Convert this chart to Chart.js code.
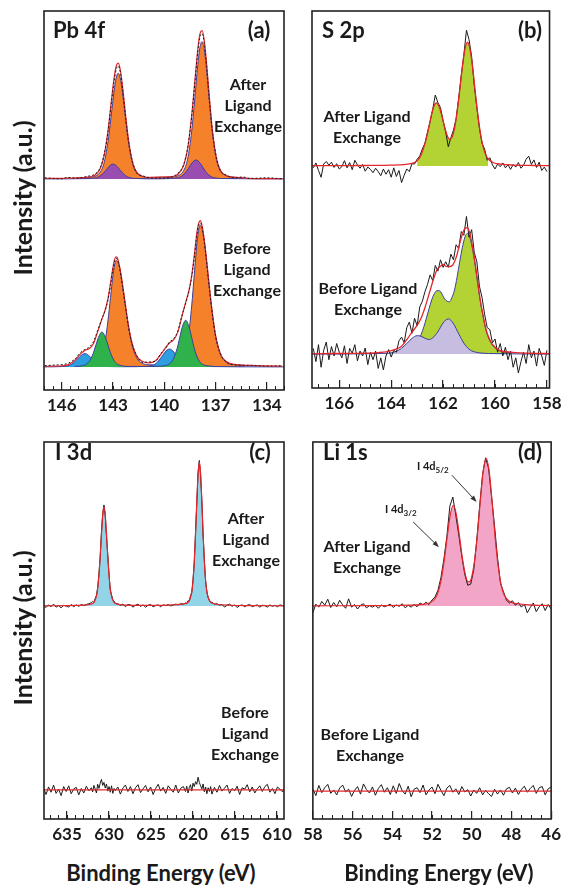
<!DOCTYPE html>
<html lang="en">
<head>
<meta charset="UTF-8">
<title>XPS spectra before and after ligand exchange</title>
<script src="https://cdn.jsdelivr.net/npm/chart.js@4"></script>
<style>
    body { margin: 0; background: #fff; }
    #fig { position: relative; width: 568px; height: 887px; overflow: hidden;
           font-family: Lato, 'Open Sans', sans-serif; font-weight: 700; color: #1a1a1a; }
    #fig canvas { position: absolute; }
    .t { position: absolute; white-space: nowrap; line-height: 1; }
    .mid { transform: translate(-50%, -50%); text-align: center; }
    .left { transform: translateY(-50%); }
    .title { font-size: 22px; }
    .note { font-size: 16px; line-height: 21px; }
    .ylab { font-size: 25px; transform: translate(-50%, -50%) rotate(-90deg); }
    .xlab { font-size: 22px; }
    .pk { font-size: 11px; }
    .pk sub { font-size: 8px; }
</style>
</head>
<body>
<div id="fig">
    <canvas id="cA"></canvas>
    <canvas id="cB"></canvas>
    <canvas id="cC"></canvas>
    <canvas id="cD"></canvas>

    <div class="t left title" style="left:53px;top:30px">Pb 4f</div>
    <div class="t mid title" style="left:259px;top:30px">(a)</div>
    <div class="t mid note" style="left:248px;top:104px">After<br>Ligand<br>Exchange</div>
    <div class="t mid note" style="left:247px;top:268px">Before<br>Ligand<br>Exchange</div>

    <div class="t left title" style="left:322px;top:30px">S 2p</div>
    <div class="t mid title" style="left:530px;top:30px">(b)</div>
    <div class="t mid note" style="left:367px;top:126px">After Ligand<br>Exchange</div>
    <div class="t mid note" style="left:368px;top:298px">Before Ligand<br>Exchange</div>

    <div class="t left title" style="left:55px;top:452px">I 3d</div>
    <div class="t mid title" style="left:260px;top:452px">(c)</div>
    <div class="t mid note" style="left:246px;top:538px">After<br>Ligand<br>Exchange</div>
    <div class="t mid note" style="left:245px;top:732px">Before<br>Ligand<br>Exchange</div>

    <div class="t left title" style="left:323px;top:452px">Li 1s</div>
    <div class="t mid title" style="left:530px;top:452px">(d)</div>
    <div class="t mid note" style="left:367px;top:556px">After Ligand<br>Exchange</div>
    <div class="t mid note" style="left:370px;top:744px">Before Ligand<br>Exchange</div>
    <div class="t left pk" style="left:417px;top:467px">I 4d<sub>5/2</sub></div>
    <div class="t left pk" style="left:385px;top:510px">I 4d<sub>3/2</sub></div>

    <div class="t ylab" style="left:22px;top:198px">Intensity (a.u.)</div>
    <div class="t ylab" style="left:22px;top:628px">Intensity (a.u.)</div>
    <div class="t mid xlab" style="left:161px;top:873px">Binding Energy (eV)</div>
    <div class="t mid xlab" style="left:439px;top:873px">Binding Energy (eV)</div>
</div>

<script>
    // ---------- (a) Pb 4f ----------
    const A_TICKS = [146, 143, 140, 137, 134];
    const A_AFTER_BASE = 55.7;
    const A_BEFORE_BASE = 6.1;

    const A_AFTER_ORANGE_E = [145.1,144.5,144.14,143.78,143.54,143.3,143.12,142.94,142.82,142.7,142.58,142.46,142.28,142.1,141.86,141.62,141.26,140.9,140.25,139.6,139.24,138.88,138.64,138.4,138.22,138.04,137.92,137.8,137.68,137.56,137.38,137.2,136.96,136.72,136.36,136.0,135.4];
    const A_AFTER_ORANGE_Y = [0.22,0.36,0.6,1.6,4.0,9.7,16.3,23.2,26.6,27.9,26.6,23.2,16.3,9.7,4.0,1.6,0.6,0.36,0.45,0.47,0.8,2.1,5.2,12.6,21.1,30.2,34.6,36.2,34.6,30.2,21.1,12.6,5.2,2.1,0.8,0.47,0.29];
    const A_AFTER_PURPLE_E = [147.04,144.44,144.08,143.84,143.6,143.42,143.24,143.0,142.76,142.58,142.4,142.16,141.92,141.56,140.6,139.59,139.23,138.99,138.75,138.57,138.39,138.15,137.91,137.73,137.55,137.31,137.07,136.71,133.0];
    const A_AFTER_PURPLE_Y = [0,0.09,0.22,0.57,1.36,2.28,3.25,3.9,3.25,2.28,1.36,0.57,0.22,0.09,0.02,0.11,0.29,0.73,1.75,2.92,4.17,5.0,4.17,2.92,1.75,0.73,0.29,0.11,0];
    const A_AFTER_FIT_E = [147.0,146.0,145.69,145.09,144.49,144.13,143.77,143.53,143.29,143.11,142.93,142.81,142.69,142.57,142.45,142.27,142.09,141.85,141.61,141.25,140.89,140.25,139.59,139.23,138.87,138.63,138.39,138.21,138.03,137.91,137.79,137.67,137.55,137.37,137.19,136.95,136.71,136.35,135.99,135.39,135.0,134.0,133.1];
    const A_AFTER_FIT_Y = [0.1,0.15,0.2,0.25,0.45,0.82,2.5,6.0,12.95,20.15,26.9,29.85,30.55,28.6,24.56,17.0,10.1,4.2,1.7,0.65,0.4,0.45,0.6,1.15,3.55,8.1,17.2,26.1,34.75,38.4,39.1,36.7,31.65,21.8,12.95,5.4,2.2,0.8,0.47,0.29,0.15,0.08,0.05];
    const A_AFTER_DATA_Y = [0.3,0.0,0.4,0.2,0.7,1.1,2.8,6.3,12.5,19.6,26.0,29.0,29.8,28.0,24.0,16.5,9.8,4.4,1.5,0.8,0.3,0.2,0.5,1.4,3.8,8.4,16.8,25.5,34.0,37.6,38.3,36.0,31.0,21.2,12.6,5.6,2.0,1.0,0.3,0.5,0.1,0.3,0.0];

    const A_BEFORE_ORANGE_E = [144.8,144.3,144.0,143.7,143.5,143.3,143.15,143.0,142.9,142.8,142.67,142.54,142.35,142.15,141.89,141.63,141.24,140.85,140.4,139.9,139.4,139.1,138.8,138.6,138.4,138.25,138.1,138.0,137.9,137.77,137.64,137.45,137.25,136.99,136.73,136.34,135.95,135.3];
    const A_BEFORE_ORANGE_Y = [0.28,0.48,0.84,2.5,5.8,12.1,18.3,24.3,27.1,28.1,27.1,24.3,18.3,12.1,5.8,2.5,0.84,0.55,0.5,0.6,0.75,1.1,3.4,7.8,16.1,24.3,32.4,36.0,37.4,36.0,32.4,24.3,16.1,7.8,3.4,1.1,0.64,0.37];
    const A_BEFORE_GREEN_E = [145.25,144.85,144.55,144.35,144.15,144.0,143.85,143.65,143.45,143.3,143.15,142.95,142.75,142.45,142.05,141.2,140.35,139.95,139.65,139.45,139.25,139.1,138.95,138.75,138.55,138.4,138.25,138.05,137.85,137.55,137.15];
    const A_BEFORE_GREEN_Y = [0.12,0.26,0.74,1.75,3.7,5.8,7.8,9.2,7.8,5.8,3.7,1.75,0.74,0.26,0.12,0.1,0.16,0.34,0.98,2.3,4.9,7.75,10.5,12.3,10.5,7.75,4.9,2.3,0.98,0.34,0.16];
    const A_BEFORE_BLUE_E = [147.04,145.95,145.65,145.45,145.25,145.05,144.85,144.65,144.45,144.25,144.05,143.85,143.65,143.35,142.2,141.0,140.7,140.5,140.3,140.1,139.9,139.7,139.5,139.3,139.1,138.9,138.7,138.4,133.0];
    const A_BEFORE_BLUE_Y = [0,0.1,0.28,0.63,1.33,2.24,3.1,3.5,3.1,2.24,1.33,0.63,0.28,0.1,0.05,0.14,0.38,0.85,1.8,3.0,4.2,4.7,4.2,3.0,1.8,0.85,0.38,0.14,0];
    const A_BEFORE_FIT_E = [147.0,146.4,146.0,145.6,145.2,144.9,144.65,144.4,144.15,143.9,143.65,143.45,143.3,143.15,143.0,142.9,142.8,142.7,142.6,142.45,142.3,142.1,141.9,141.6,141.3,140.9,140.5,140.2,139.95,139.7,139.45,139.2,138.95,138.75,138.55,138.4,138.25,138.1,138.0,137.9,137.8,137.7,137.55,137.4,137.2,137.0,136.7,136.4,135.9,135.0,134.0,133.1];
    const A_BEFORE_FIT_Y = [0.15,0.2,0.3,0.6,1.9,3.45,4.35,4.8,6.1,9.3,12.6,15.2,18.0,22.1,26.4,28.5,29.0,28.1,26.1,21.9,17.1,10.95,6.5,2.7,1.5,1.07,1.7,3.3,4.96,6.3,7.2,9.3,13.7,17.1,20.4,24.1,29.3,35.3,37.8,38.6,37.4,34.7,29.1,22.65,14.55,8.3,3.2,1.5,0.65,0.38,0.26,0.2];
    const A_BEFORE_DATA_Y = [0.3,0.5,0.6,1.0,2.2,3.8,4.6,5.2,6.6,9.6,12.8,15.0,17.6,21.5,26.0,28.0,28.6,27.8,25.6,21.4,16.8,10.6,6.2,2.9,1.2,1.3,1.5,3.6,4.7,6.6,7.4,9.6,13.9,16.8,20.1,23.8,28.8,34.6,37.2,38.0,37.0,34.2,28.6,22.2,14.2,8.0,3.4,1.3,0.5,0.4,0.2,0.3];

    // ---------- (b) S 2p ----------
    const B_TICKS = [166, 164, 162, 160, 158];
    const B_AFTER_BASE = 58.9;
    const B_BEFORE_BASE = 9.0;
    const B_E = [167.0,166.9,166.8,166.7,166.6,166.5,166.4,166.3,166.2,166.1,
        166.0,165.9,165.8,165.7,165.6,165.5,165.4,165.3,165.2,165.1,
        165.0,164.9,164.8,164.7,164.6,164.5,164.4,164.3,164.2,164.1,
        164.0,163.9,163.8,163.7,163.6,163.5,163.4,163.3,163.2,163.1,
        163.0,162.9,162.8,162.7,162.6,162.5,162.4,162.3,162.2,162.1,
        162.0,161.9,161.8,161.7,161.6,161.5,161.4,161.3,161.2,161.1,
        161.0,160.9,160.8,160.7,160.6,160.5,160.4,160.3,160.2,160.1,
        160.0,159.9,159.8,159.7,159.6,159.5,159.4,159.3,159.2,159.1,
        159.0,158.9,158.8,158.7,158.6,158.5,158.4,158.3,158.2,158.1,
        158.0];
    const B_AFTER_DATA = [-0.5,0.8,-1.2,-3.0,0.5,1.2,0.2,1.0,-0.4,0.6,
        -0.8,-0.2,1.4,-0.5,0.9,-1.0,1.5,0.3,-0.6,0.4,
        -1.4,-0.3,-0.9,-1.8,-0.6,-1.5,-2.6,-0.8,-2.2,-1.0,
        -3.0,-0.5,-2.8,-1.2,-4.4,-2.5,-0.8,-1.5,0.6,0.5,
        1.8,2.6,4.5,6.0,9.0,11.8,15.0,18.8,16.8,15.5,
        12.0,9.0,5.1,7.5,9.5,12.5,18.0,24.0,29.5,36.0,
        33.5,29.0,21.5,15.5,10.0,6.0,4.5,1.5,2.2,0.3,
        -0.8,0.5,-0.2,0.8,-0.5,0.3,-0.9,0.4,-0.3,0.9,
        -0.6,0.2,1.8,2.6,0.4,1.6,-0.4,1.0,-1.2,-0.3,
        -1.5];
    const B_BEFORE_DATA = [1.5,-2.0,2.5,-3.5,1.0,3.2,-1.5,2.0,-0.5,2.8,
        0.5,-1.0,2.2,-2.5,1.5,0.2,2.5,-1.8,0.8,-0.5,
        1.6,-2.8,0.5,-1.5,0.8,-3.8,-1.0,-4.2,-0.5,1.2,
        -0.8,1.0,0.5,3.5,4.5,3.0,7.0,8.5,5.5,9.5,
        7.5,12.5,14.0,16.5,18.5,21.0,19.5,23.5,22.0,25.0,
        23.0,24.5,23.0,26.5,25.0,29.0,28.0,32.5,31.5,36.5,
        31.0,33.0,27.0,24.5,18.0,15.0,10.5,7.0,6.5,3.0,
        4.0,0.5,2.8,-0.5,1.8,-1.5,0.8,-3.5,-1.0,-5.0,
        -2.0,0.5,-2.5,2.5,-1.0,0.8,-3.2,1.5,-0.5,-3.0,
        1.0];
    const B_AFTER_FIT_E = [167.05,166,165,164,163.5,163.2,163.0,162.86,162.66,162.56,162.46,162.36,162.26,162.16,162.06,161.96,161.86,161.76,161.66,161.56,161.46,161.36,161.26,161.16,161.06,160.96,160.86,160.76,160.66,160.56,160.46,160.36,160.26,160.06,159.76,159.3,158.5,157.9];
    const B_AFTER_FIT_Y = [0.05,0.08,0.12,0.22,0.37,0.66,1.4,2.7,6.9,9.9,13.2,15.7,16.75,15.85,13.6,10.85,8.4,7.1,7.55,9.95,14.3,20.0,26.2,30.9,32.85,30.8,26.0,19.55,13.5,8.6,5.15,3.0,1.85,0.85,0.46,0.24,0.12,0.08];
    const B_AFTER_GREEN_SPAN = [163.0, 160.26];
    const B_BEFORE_FIT_E = [167.05,166,165,164.5,164.2,163.9,163.6,163.4,163.2,163.0,162.85,162.7,162.55,162.4,162.24,162.1,162.0,161.9,161.8,161.66,161.56,161.46,161.36,161.26,161.16,161.06,160.96,160.86,160.76,160.66,160.56,160.46,160.36,160.26,160.1,159.8,159.4,159.0,158.5,157.9];
    const B_BEFORE_FIT_Y = [0.1,0.15,0.25,0.4,0.6,1.1,2.1,3.8,5.8,7.6,9.5,12.3,15.7,19.2,22.3,23.3,23.8,23.3,23.2,23.4,24.5,26.45,29.3,31.7,33.3,33.55,31.7,28.25,23.85,18.8,14.0,10.25,6.9,4.7,2.55,0.9,0.5,0.3,0.2,0.12];
    const B_BEFORE_GREEN_E = [163.6,163.3,163.1,162.94,162.84,162.74,162.64,162.54,162.44,162.34,162.24,162.14,162.04,161.94,161.84,161.76,161.66,161.56,161.46,161.36,161.26,161.16,161.06,160.96,160.86,160.76,160.66,160.56,160.46,160.36,160.26,160.1,159.8,159.4];
    const B_BEFORE_GREEN_Y = [0.6,1.2,2.1,3.7,5.3,7.25,9.6,12.05,14.35,16.0,16.8,16.8,15.9,14.6,14.0,13.85,15.0,17.0,20.45,24.5,28.2,31.0,32.0,30.7,27.55,23.3,18.35,13.7,10.0,6.7,4.5,2.4,0.8,0.4];
    const B_BEFORE_PURPLE_E = [167.05,164.2,163.8,163.6,163.4,163.2,163.0,162.85,162.7,162.55,162.4,162.2,162.0,161.8,161.6,161.4,161.2,161.0,160.8,160.5,160.0,157.9];
    const B_BEFORE_PURPLE_Y = [0,0.2,0.73,1.54,2.8,4.16,4.88,4.73,4.2,3.86,4.3,5.94,8.26,9.34,8.06,5.4,2.9,1.3,0.6,0.25,0.12,0];

    // ---------- (c) I 3d ----------
    const C_TICKS = [635, 630, 625, 620, 615, 610];
    const C_AFTER_BASE = 56.5;
    const C_BEFORE_BASE = 7.7;
    const C_E = [637.8,637.5,637.2,636.9,636.6,636.3,636.0,635.7,635.4,635.1,634.8,634.5,634.2,633.9,633.6,633.3,633.0,632.7,632.4,632.1,
        631.95,631.8,631.65,631.5,631.35,631.2,631.05,630.9,630.75,630.6,630.45,630.3,630.15,630.0,629.85,629.7,629.55,629.4,629.25,
        628.95,628.65,628.35,628.05,627.75,627.45,627.15,626.85,626.55,626.25,625.95,625.65,625.35,625.05,624.75,624.45,624.15,623.85,623.55,623.25,622.95,622.65,622.35,622.05,621.75,621.45,621.15,
        620.9,620.75,620.6,620.45,620.3,620.15,620.0,619.85,619.7,619.55,619.4,619.25,619.1,618.95,618.8,618.65,618.5,618.35,618.2,618.05,617.9,617.75,
        617.45,617.15,616.85,616.55,616.25,615.95,615.65,615.35,615.05,614.75,614.45,614.15,613.85,613.55,613.25,612.95,612.65,612.35,612.05,611.75,611.45,611.15,610.85,610.55,610.25,609.95,609.65,609.35,609.05];
    const C_AFTER_DATA = [0.2,-0.4,0.3,-0.2,0.5,-0.3,0.1,-0.5,0.2,0.0,-0.3,0.4,-0.2,0.3,-0.1,0.4,0.1,0.4,0.6,0.9,
        1.2,0.9,2.0,2.8,4.9,8.6,13.0,19.6,24.5,26.8,24.0,18.5,13.6,8.5,4.2,3.0,1.6,1.3,0.7,
        0.6,0.2,0.5,-0.2,0.4,0.3,-0.3,0.2,0.5,-0.1,0.3,-0.3,0.2,0.4,-0.2,0.1,0.3,-0.2,0.3,0.1,0.4,0.0,0.3,0.5,0.3,0.6,0.5,
        0.8,0.6,1.4,1.3,2.7,3.6,7.0,11.6,19.6,27.4,35.4,38.6,34.8,28.0,18.8,12.1,6.5,3.9,2.2,1.6,0.9,1.0,
        0.5,0.6,0.2,0.4,-0.3,0.2,0.5,-0.1,0.3,-0.4,0.1,0.3,-0.2,0.2,0.4,-0.2,0.1,0.3,-0.3,0.2,0.1,-0.3,0.3,-0.1,0.2,-0.2,0.3,0.1,-0.2];
    const C_BEFORE_DATA = [0.5,-1.2,0.8,-0.6,1.3,-0.9,0.2,-1.5,0.9,-0.4,1.1,-1.0,0.3,0.7,-1.3,0.4,-0.8,1.0,-0.2,0.6,
        -0.5,1.2,0.3,-0.8,1.5,0.4,1.8,2.8,1.2,2.0,0.5,1.6,-0.3,0.9,-0.6,1.1,-0.9,0.4,-0.2,
        0.8,-1.1,0.5,1.3,-0.4,0.9,-1.0,0.6,1.4,-0.7,0.3,1.2,-0.5,0.8,-1.2,0.4,1.5,-0.3,0.7,-0.9,1.1,0.2,-0.6,1.3,-0.8,0.5,0.9,
        -0.4,1.0,-0.8,0.6,1.4,-0.3,1.8,0.9,2.2,1.5,3.4,2.0,1.1,0.3,1.6,-0.5,0.8,-1.0,0.6,-0.4,0.9,-1.1,
        0.7,-0.6,1.2,-0.3,0.5,1.3,-0.9,0.4,-0.2,1.0,-1.2,0.6,0.2,1.4,-0.5,0.8,-0.8,0.3,1.1,-0.4,0.9,1.5,-0.6,0.4,-1.0,0.8,0.2,-0.5,0.6];
    const C_FIT_E = [637.8,634,632.6,632.1,631.8,631.5,631.35,631.2,631.05,630.9,630.75,630.6,630.45,630.3,630.15,630.0,629.85,629.7,629.4,629.1,628.6,625,621.25,620.75,620.45,620.15,620.0,619.85,619.7,619.55,619.4,619.25,619.1,618.95,618.8,618.65,618.5,618.35,618.05,617.75,617.25,613,609.0];
    const C_FIT_Y = [0.05,0.15,0.32,0.55,0.95,2.55,4.6,8.1,13.2,19.0,24.2,26.3,24.2,19.0,13.2,8.1,4.6,2.55,0.95,0.55,0.32,0.15,0.5,0.8,1.4,3.7,6.7,11.8,19.1,27.7,35.1,38.2,35.1,27.7,19.1,11.8,6.7,3.7,1.4,0.8,0.46,0.1,0.05];
    const C_FLAT_E = [637.8, 609.0];
    const C_FLAT_Y = [0, 0];

    // ---------- (d) Li 1s ----------
    const D_TICKS = [58, 56, 54, 52, 50, 48, 46];
    const D_AFTER_BASE = 56.5;
    const D_BEFORE_BASE = 7.4;
    const D_E = [58.0,57.85,57.7,57.55,57.4,57.25,57.1,56.95,56.8,56.65,
        56.5,56.35,56.2,56.05,55.9,55.75,55.6,55.45,55.3,55.15,
        55.0,54.85,54.7,54.55,54.4,54.25,54.1,53.95,53.8,53.65,
        53.5,53.35,53.2,53.05,52.9,52.75,52.6,52.45,52.3,52.15,
        52.0,51.85,51.7,51.55,51.4,51.25,51.1,50.95,50.8,50.65,
        50.5,50.35,50.2,50.05,49.9,49.75,49.6,49.45,49.3,49.15,
        49.0,48.85,48.7,48.55,48.4,48.25,48.1,47.95,47.8,47.65,
        47.5,47.35,47.2,47.05,46.9,46.75,46.6,46.45,46.3,46.15,
        46.0];
    const D_AFTER_DATA = [-1.8,0.5,-0.3,1.2,0.2,1.8,-0.4,0.9,-0.2,1.5,
        0.3,-0.6,1.9,-0.3,0.4,-0.8,0.2,0.6,-0.5,0.1,
        -0.3,0.2,-0.6,0.3,-0.2,0.1,0.5,-0.4,0.3,-0.1,
        0.6,-0.5,0.2,-0.3,0.4,-0.2,0.8,0.3,1.0,0.4,
        1.6,2.4,4.2,7.5,12.5,18.5,26.5,28.9,24.0,18.8,
        13.2,8.4,5.5,5.8,9.5,17.2,26.5,35.0,39.3,36.5,
        29.0,21.2,12.8,6.0,3.8,1.5,0.8,1.4,0.2,0.9,
        -0.3,0.5,-1.8,-0.4,0.8,-1.5,-0.2,0.6,-1.2,0.4,
        -0.8];
    const D_BEFORE_DATA = [0.6,-1.2,1.5,-0.4,0.9,1.8,-0.6,0.3,-1.0,0.8,
        1.6,-0.2,0.5,-1.4,0.2,1.2,-0.8,1.9,0.4,-0.5,
        1.1,-1.1,0.7,1.7,-0.3,0.9,-0.9,1.4,-0.6,2.0,
        0.1,-0.8,1.3,-1.5,0.5,0.9,-0.4,1.6,-1.0,0.3,
        1.1,-0.7,1.8,0.2,-1.2,0.8,1.5,-0.3,0.6,-0.9,
        1.2,-0.2,0.4,-1.3,0.3,-0.6,0.9,-1.0,0.2,-0.7,
        -1.4,0.5,-0.8,0.3,-1.1,0.6,1.0,-0.5,0.8,-0.9,
        0.4,1.3,-0.3,0.7,1.5,-0.6,0.9,1.2,-1.0,0.6,
        1.1];
    const D_FIT_E = [58,55,53.2,52.5,52.13,51.83,51.68,51.53,51.38,51.23,51.08,50.93,50.78,50.63,50.48,50.33,50.18,50.1,50.02,49.87,49.72,49.57,49.42,49.27,49.12,48.97,48.82,48.67,48.52,48.37,48.07,47.67,47.07,46];
    const D_FIT_Y = [0.05,0.1,0.23,0.43,0.78,2.05,3.87,7.2,12.3,18.55,24.2,26.65,24.45,19.05,13.1,8.6,6.4,6.5,7.35,11.5,18.56,27.7,35.8,39.1,35.7,27.45,18.1,10.6,5.7,2.96,1.12,0.6,0.3,0.1];
    const D_FLAT_E = [58.0, 46.0];
    const D_FLAT_Y = [0, 0];
    // arrows to the I 4d peaks: [eV, intensity]
    const D_ARROWS = [
        {from: [51.0, 91.2], to: [49.75, 84.1]},
        {from: [52.95, 78.8], to: [51.65, 72.1]}
    ];

    // ---------- drawing ----------
    const PAD = 22, TOP = 2, AXIS_H = 30;
    const FONT = "Lato, 'Open Sans', sans-serif";
    const RED = '#e5262b', INK = '#1a1a1a', NAVY = '#3a3f9e';

    function pts(xs, ys, base) {
        const n = Math.min(xs.length, ys.length);
        const out = [];
        for (let i = 0; i < n; i++) out.push({x: xs[i], y: ys[i] + base});
        return out;
    }

    function trace(data, color, width, opts) {
        return Object.assign({data, borderColor: color, borderWidth: width, pointRadius: 0,
            fill: false, tension: 0}, opts || {});
    }
    function smooth(data, color, width, opts) {
        return trace(data, color, width, Object.assign({cubicInterpolationMode: 'monotone'}, opts || {}));
    }
    function area(data, color, base, edge) {
        return smooth(data, edge || color, edge ? 1 : 0, {backgroundColor: color, fill: {value: base}});
    }

    const framePlugin = {
        id: 'frame',
        afterDatasetsDraw(chart) {
            const {ctx, chartArea: a} = chart;
            ctx.save();
            ctx.strokeStyle = '#222';
            ctx.lineWidth = 1.6;
            ctx.strokeRect(a.left, a.top, a.right - a.left, a.bottom - a.top);
            ctx.restore();
        }
    };

    const arrowPlugin = {
        id: 'arrows',
        afterDatasetsDraw(chart, args, opts) {
            const list = (opts && opts.list) || [];
            const {ctx, scales: {x, y}} = chart;
            list.forEach(a => {
                const x1 = x.getPixelForValue(a.from[0]), y1 = y.getPixelForValue(a.from[1]);
                const x2 = x.getPixelForValue(a.to[0]), y2 = y.getPixelForValue(a.to[1]);
                const ang = Math.atan2(y2 - y1, x2 - x1);
                ctx.save();
                ctx.strokeStyle = '#333';
                ctx.fillStyle = '#333';
                ctx.lineWidth = 1;
                ctx.beginPath();
                ctx.moveTo(x1, y1);
                ctx.lineTo(x2 - 4 * Math.cos(ang), y2 - 4 * Math.sin(ang));
                ctx.stroke();
                ctx.beginPath();
                ctx.moveTo(x2, y2);
                ctx.lineTo(x2 - 7 * Math.cos(ang - 0.35), y2 - 7 * Math.sin(ang - 0.35));
                ctx.lineTo(x2 - 7 * Math.cos(ang + 0.35), y2 - 7 * Math.sin(ang + 0.35));
                ctx.closePath();
                ctx.fill();
                ctx.restore();
            });
        }
    };

    function makePanel(id, frame, range, major, minorStep, datasets, arrows) {
        const cv = document.getElementById(id);
        const w = frame.r - frame.l + 2 * PAD;
        const h = frame.b - frame.t + TOP + AXIS_H;
        cv.width = w;
        cv.height = h;
        cv.style.left = (frame.l - PAD) + 'px';
        cv.style.top = (frame.t - TOP) + 'px';
        cv.style.width = w + 'px';
        cv.style.height = h + 'px';

        const common = {type: 'linear', position: 'bottom', min: range[1], max: range[0],
            reverse: true, border: {display: false}};

        return new Chart(cv, {
            type: 'line',
            data: {datasets},
            options: {
                responsive: false,
                animation: false,
                events: [],
                layout: {autoPadding: false, padding: {left: PAD, right: PAD, top: TOP, bottom: 0}},
                plugins: {legend: {display: false}, tooltip: {enabled: false}, arrows: {list: arrows || []}},
                scales: {
                    x: Object.assign({}, common, {
                        weight: 0,
                        afterBuildTicks: s => {
                            const t = [];
                            const k0 = Math.ceil(range[1] / minorStep - 1e-6);
                            for (let k = k0; k * minorStep <= range[0] + 1e-9; k++) {
                                t.push({value: +(k * minorStep).toFixed(3)});
                            }
                            s.ticks = t;
                        },
                        afterFit: s => { s.height = 0; },
                        ticks: {display: false},
                        grid: {drawOnChartArea: false, drawTicks: true, tickLength: -4, color: '#222', lineWidth: 1}
                    }),
                    xMajor: Object.assign({}, common, {
                        weight: 1,
                        afterBuildTicks: s => { s.ticks = major.map(v => ({value: v})); },
                        afterFit: s => { s.height = AXIS_H; },
                        ticks: {autoSkip: false, maxRotation: 0, padding: 13, color: INK,
                            font: {family: FONT, size: 17, weight: 'bold'}},
                        grid: {drawOnChartArea: false, drawTicks: true, tickLength: -8, color: '#222', lineWidth: 1.2}
                    }),
                    y: {display: false, min: 0, max: 100}
                }
            },
            plugins: [framePlugin, arrowPlugin]
        });
    }

    // (a) Pb 4f
    makePanel('cA', {l: 44, r: 284, t: 11, b: 390}, [147.04, 133.0], A_TICKS, 0.5, [
        smooth(pts(A_AFTER_FIT_E, A_AFTER_DATA_Y, A_AFTER_BASE), INK, 1, {borderDash: [2, 2]}),
        smooth(pts(A_AFTER_FIT_E, A_AFTER_FIT_Y, A_AFTER_BASE), RED, 1.2),
        area(pts(A_AFTER_PURPLE_E, A_AFTER_PURPLE_Y, A_AFTER_BASE), '#9a4db0', A_AFTER_BASE, NAVY),
        area(pts(A_AFTER_ORANGE_E, A_AFTER_ORANGE_Y, A_AFTER_BASE), '#f5822a', A_AFTER_BASE, NAVY),
        smooth(pts(A_BEFORE_FIT_E, A_BEFORE_DATA_Y, A_BEFORE_BASE), INK, 1, {borderDash: [2, 2]}),
        smooth(pts(A_BEFORE_FIT_E, A_BEFORE_FIT_Y, A_BEFORE_BASE), RED, 1.2),
        area(pts(A_BEFORE_GREEN_E, A_BEFORE_GREEN_Y, A_BEFORE_BASE), '#2fb24c', A_BEFORE_BASE, NAVY),
        area(pts(A_BEFORE_BLUE_E, A_BEFORE_BLUE_Y, A_BEFORE_BASE), '#2d9fe0', A_BEFORE_BASE, NAVY),
        area(pts(A_BEFORE_ORANGE_E, A_BEFORE_ORANGE_Y, A_BEFORE_BASE), '#f5822a', A_BEFORE_BASE, NAVY)
    ]);

    // (b) S 2p
    const bGreen = pts(B_AFTER_FIT_E, B_AFTER_FIT_Y, B_AFTER_BASE)
        .filter(p => p.x <= B_AFTER_GREEN_SPAN[0] && p.x >= B_AFTER_GREEN_SPAN[1]);
    makePanel('cB', {l: 312, r: 553, t: 11, b: 388}, [167.05, 157.9], B_TICKS, 0.4, [
        smooth(pts(B_AFTER_FIT_E, B_AFTER_FIT_Y, B_AFTER_BASE), RED, 1.3),
        trace(pts(B_E, B_AFTER_DATA, B_AFTER_BASE), INK, 1),
        area(bGreen, '#b3d334', B_AFTER_BASE),
        smooth(pts(B_BEFORE_FIT_E, B_BEFORE_FIT_Y, B_BEFORE_BASE), RED, 1.3),
        trace(pts(B_E, B_BEFORE_DATA, B_BEFORE_BASE), INK, 1),
        area(pts(B_BEFORE_PURPLE_E, B_BEFORE_PURPLE_Y, B_BEFORE_BASE), '#c6bde0', B_BEFORE_BASE, NAVY),
        area(pts(B_BEFORE_GREEN_E, B_BEFORE_GREEN_Y, B_BEFORE_BASE), '#b3d334', B_BEFORE_BASE, NAVY)
    ]);

    // (c) I 3d
    makePanel('cC', {l: 44, r: 284, t: 442, b: 819}, [637.74, 609.17], C_TICKS, 1, [
        smooth(pts(C_FIT_E, C_FIT_Y, C_AFTER_BASE), RED, 1.2),
        trace(pts(C_E, C_AFTER_DATA, C_AFTER_BASE), INK, 1),
        area(pts(C_FIT_E, C_FIT_Y, C_AFTER_BASE), '#92d5e9', C_AFTER_BASE),
        trace(pts(C_FLAT_E, C_FLAT_Y, C_BEFORE_BASE), RED, 1.2),
        trace(pts(C_E, C_BEFORE_DATA, C_BEFORE_BASE), INK, 1)
    ]);

    // (d) Li 1s region (I 4d)
    makePanel('cD', {l: 312, r: 552, t: 442, b: 819}, [58.0, 46.0], D_TICKS, 0.5, [
        smooth(pts(D_FIT_E, D_FIT_Y, D_AFTER_BASE), RED, 1.2),
        trace(pts(D_E, D_AFTER_DATA, D_AFTER_BASE), INK, 1),
        area(pts(D_FIT_E, D_FIT_Y, D_AFTER_BASE), '#f3a5c8', D_AFTER_BASE),
        trace(pts(D_FLAT_E, D_FLAT_Y, D_BEFORE_BASE), RED, 1.2),
        trace(pts(D_E, D_BEFORE_DATA, D_BEFORE_BASE), INK, 1)
    ], D_ARROWS);
</script>
</body>
</html>
